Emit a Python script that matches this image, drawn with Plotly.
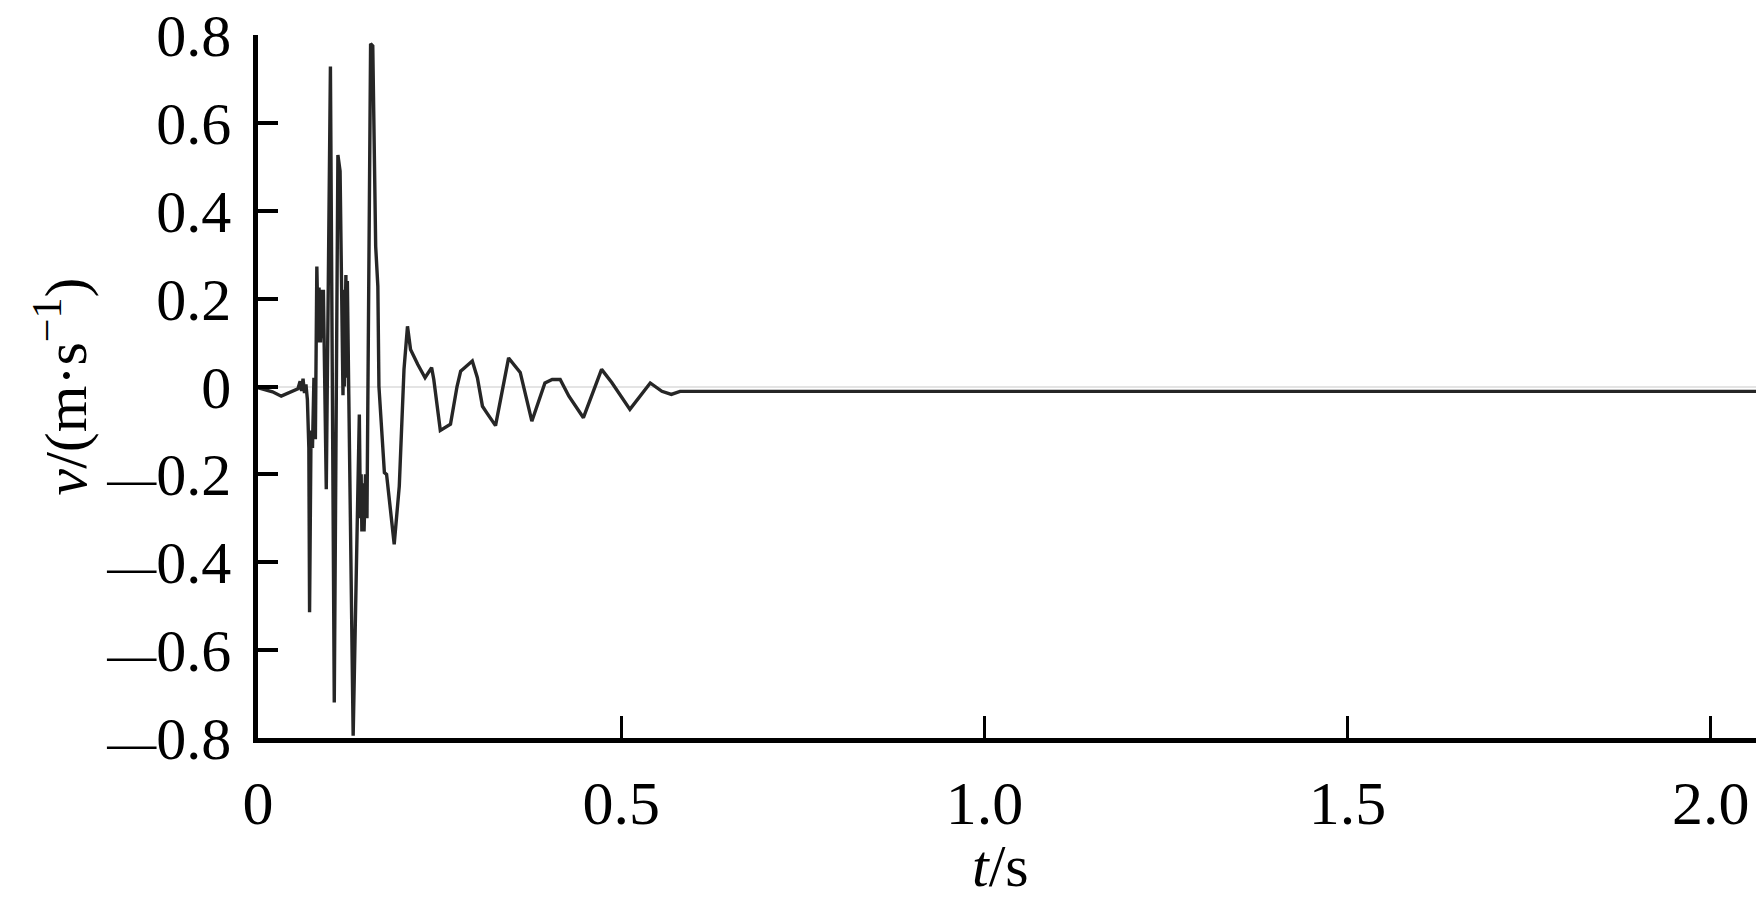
import plotly.graph_objects as go

# time (s) and velocity (m/s)
t = [0.000, 0.010, 0.020, 0.032, 0.045, 0.055, 0.058, 0.060, 0.062, 0.064,
     0.066, 0.068, 0.070, 0.071, 0.073, 0.075, 0.077, 0.079, 0.081, 0.083,
     0.084, 0.086, 0.087, 0.089, 0.090, 0.092, 0.094, 0.0997, 0.105, 0.110,
     0.113, 0.117, 0.118, 0.119, 0.121, 0.122, 0.123, 0.125, 0.131, 0.1395,
     0.141, 0.142, 0.143, 0.145, 0.146, 0.148, 0.150, 0.155, 0.158, 0.162,
     0.165, 0.1665, 0.174, 0.177, 0.1875, 0.1945, 0.201, 0.2058, 0.210, 0.220,
     0.230, 0.239, 0.242, 0.251, 0.265, 0.274, 0.279, 0.286, 0.295, 0.302,
     0.309, 0.315, 0.327, 0.345, 0.361, 0.377, 0.395, 0.405, 0.416, 0.428,
     0.448, 0.473, 0.487, 0.512, 0.540, 0.556, 0.569, 0.581, 2.065]
v = [-0.003, -0.008, -0.012, -0.022, -0.012, -0.005, 0.012, -0.010, 0.018, -0.015,
     0.005, -0.030, -0.140, -0.514, -0.100, -0.140, 0.020, -0.120, 0.273, 0.100,
     0.225, 0.100, 0.220, 0.110, 0.220, -0.020, -0.234, 0.728, -0.719, 0.527,
     0.490, -0.020, 0.220, 0.000, 0.254, 0.020, 0.240, -0.020, -0.795, -0.064,
     -0.300, -0.200, -0.330, -0.220, -0.330, -0.200, -0.300, 0.780, 0.775, 0.319,
     0.228, 0.000, -0.196, -0.200, -0.359, -0.227, 0.039, 0.137, 0.084, 0.050,
     0.020, 0.043, 0.016, -0.100, -0.086, 0.000, 0.035, 0.045, 0.058, 0.020,
     -0.045, -0.060, -0.089, 0.065, 0.032, -0.079, 0.008, 0.016, 0.016, -0.022,
     -0.071, 0.039, 0.009, -0.052, 0.008, -0.011, -0.018, -0.011, -0.011]

x_ticks = [0, 0.5, 1.0, 1.5, 2.0]
x_ticktext = ["0", "0.5", "1.0", "1.5", "2.0"]
y_ticks = [-0.8, -0.6, -0.4, -0.2, 0, 0.2, 0.4, 0.6, 0.8]
DASH = '<span style="font-size:49px">—</span>'
y_ticktext = [DASH + "0.8", DASH + "0.6", DASH + "0.4", DASH + "0.2",
              "0", "0.2", "0.4", "0.6", "0.8"]

FONT = "Liberation Serif, Times New Roman, serif"

fig = go.Figure()
fig.add_trace(go.Scatter(x=t, y=v, mode="lines",
                         line=dict(color="#262626", width=3.4),
                         showlegend=False, hoverinfo="skip"))

# the page body adds a small offset, so the figure is a bit smaller
W, H = 1756, 896
L, R, T, B = 250, 6, 27, 166
pw, ph = W - L - R, H - T - B

fig.update_layout(
    width=W, height=H,
    margin=dict(l=L, r=R, t=T, b=B, pad=0, autoexpand=False),
    paper_bgcolor="white", plot_bgcolor="white",
    font=dict(family=FONT, color="black"),
    xaxis=dict(range=[0, 2.065], tickvals=x_ticks, ticktext=x_ticktext,
               automargin=False, ticklabeloverflow="allow",
               showgrid=False, zeroline=False, showline=True,
               linecolor="black", linewidth=4.5,
               ticks="inside", ticklen=22, tickwidth=3, tickcolor="black",
               tickfont=dict(family=FONT, size=62), ticklabelstandoff=7),
    yaxis=dict(range=[-0.8, 0.8], tickvals=y_ticks, ticktext=y_ticktext,
               automargin=False, ticklabeloverflow="allow",
               showgrid=False, zeroline=True, zerolinecolor="#e4e4e4",
               zerolinewidth=1.5, showline=True,
               linecolor="black", linewidth=4.5,
               ticks="inside", ticklen=20, tickwidth=3.5, tickcolor="black",
               tickfont=dict(family=FONT, size=60), ticklabelstandoff=10),
    shapes=[dict(type="line", xref="paper", yref="paper",
                 x0=1, x1=1, y0=0, y1=14 / ph,
                 line=dict(color="black", width=3))],
    annotations=[
        dict(text="<i>v</i>/(m·s<sup>−1</sup>)", xref="paper", yref="paper",
             x=(53 - L) / pw, y=0.5, xanchor="center", yanchor="middle",
             textangle=-90, showarrow=False,
             font=dict(family=FONT, size=60, color="black")),
        dict(text="<i>t</i>/s", xref="paper", yref="paper",
             x=(992 - L) / pw, y=(H - B - 858) / ph,
             xanchor="center", yanchor="middle", showarrow=False,
             font=dict(family=FONT, size=60, color="black")),
    ],
)

fig.write_html("out.html")
